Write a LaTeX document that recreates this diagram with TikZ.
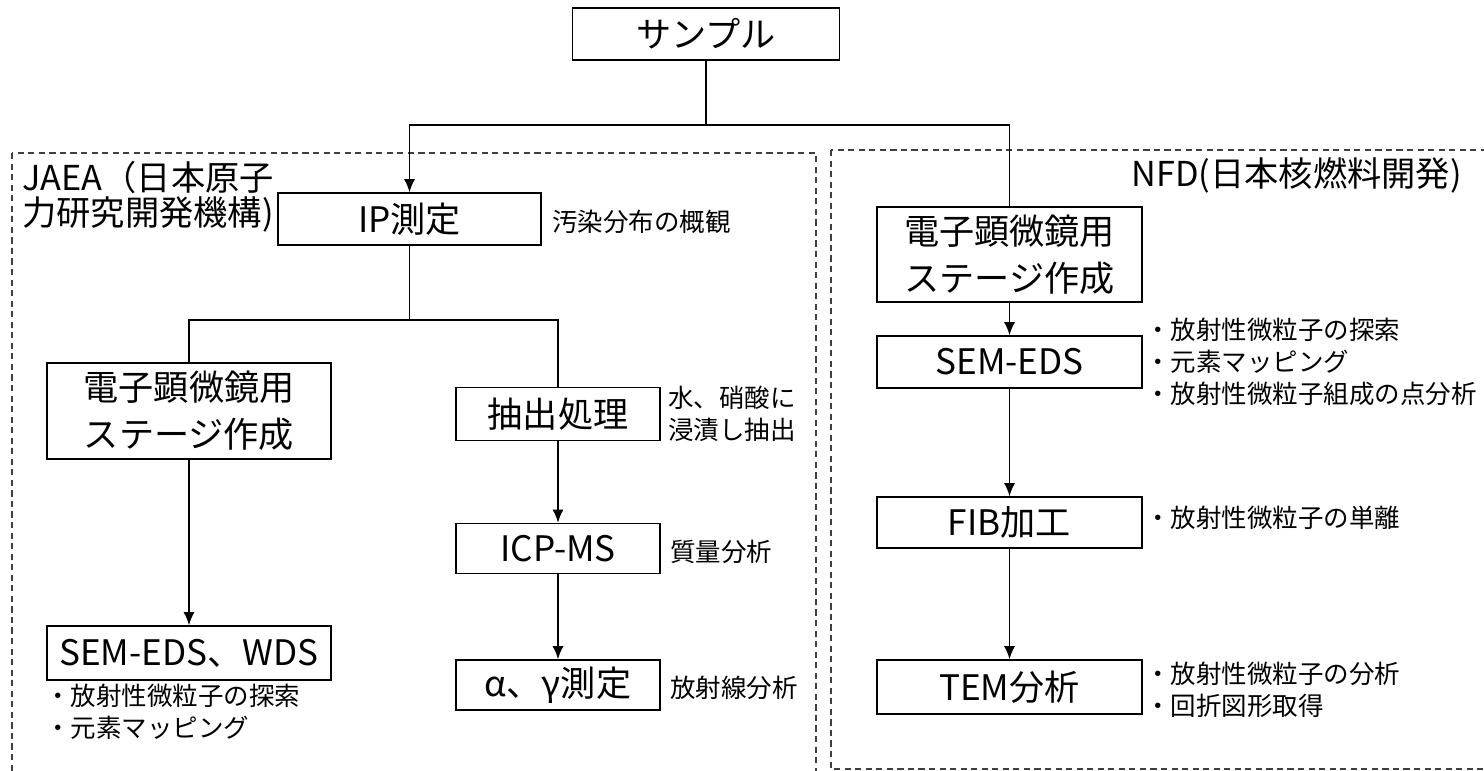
\documentclass[tikz,border=0pt]{standalone}
\usepackage{fontspec}
\setmainfont{Noto Sans CJK JP}
\usepackage{tikz}
\usetikzlibrary{positioning, arrows.meta, calc}
\tikzset{
  process/.style={rectangle, draw=black, line width=0.9pt, text centered, align=center, inner sep=2pt, font=\fontsize{20}{27}\selectfont},
  remark/.style={anchor=west, align=left, inner sep=0pt, font=\fontsize{14.5}{18}\selectfont},
  label/.style={align=left, inner sep=0pt, font=\fontsize{19.5}{20}\selectfont},
  region/.style={draw=black!75, line width=0.9pt, dash pattern=on 3.5pt off 2.5pt},
  arrow/.style={line width=0.9pt, -{Latex[length=2.6mm, width=2.2mm]}},
  link/.style={line width=0.9pt}
}

\begin{document}
\begin{tikzpicture}

    \useasboundingbox (0,0) rectangle (29.68,-15.42);
    \clip (0,0) rectangle (29.68,-15.42);

    % 1. Zonas punteadas
    \draw[region] (0.24,-3.06) rectangle (16.32,-16.2);
    \draw[region] (16.62,-3.0) rectangle (30.2,-15.38);
    \node[label, anchor=west] (jaea) at (0.44,-3.94) {JAEA（日本原子\\力研究開発機構)};
    \node[label, anchor=east] (nfd) at (29.24,-3.5) {NFD(日本核燃料開発)};

    % 2. Cajas
    \node[process, minimum width=5.34cm, minimum height=1.04cm] (sample) at (14.12,-0.68) {サンプル};
    \node[process, minimum width=5.26cm, minimum height=1.04cm] (ip) at (8.19,-4.38) {IP測定};

    % --- JAEA ---
    \node[process, minimum width=5.68cm, minimum height=1.92cm] (jstage) at (3.78,-8.22) {電子顕微鏡用\\ステージ作成};
    \node[process, minimum width=5.68cm, minimum height=1.08cm] (jsem) at (3.78,-13.06) {SEM-EDS、WDS};
    \node[process, minimum width=4.08cm, minimum height=1.06cm] (extract) at (11.16,-8.28) {抽出処理};
    \node[process, minimum width=4.08cm, minimum height=1.0cm] (icp) at (11.16,-10.97) {ICP-MS};
    \node[process, minimum width=4.08cm, minimum height=1.0cm] (alpha) at (11.16,-13.7) {α、γ測定};

    % --- NFD ---
    \node[process, minimum width=5.3cm, minimum height=1.9cm] (nstage) at (20.19,-5.09) {電子顕微鏡用\\ステージ作成};
    \node[process, minimum width=5.3cm, minimum height=1.04cm] (nsem) at (20.19,-7.24) {SEM-EDS};
    \node[process, minimum width=5.3cm, minimum height=1.02cm] (fib) at (20.19,-10.45) {FIB加工};
    \node[process, minimum width=5.3cm, minimum height=1.08cm] (tem) at (20.19,-13.74) {TEM分析};

    % 3. Notas
    \node[remark] (ipnote) at (11.04,-4.44) {汚染分布の概観};
    \node[remark] (extractnote) at (13.36,-8.28) {水、硝酸に\\浸漬し抽出};
    \node[remark] (icpnote) at (13.4,-11.04) {質量分析};
    \node[remark] (alphanote) at (13.4,-13.76) {放射線分析};
    \node[remark] (jsemnote) at (0.9,-14.24) {・放射性微粒子の探索\\・元素マッピング};
    \node[remark] (nsemnote) at (22.9,-7.24) {・放射性微粒子の探索\\・元素マッピング\\・放射性微粒子組成の点分析};
    \node[remark] (fibnote) at (22.9,-10.36) {・放射性微粒子の単離};
    \node[remark] (temnote) at (22.9,-13.8) {・放射性微粒子の分析\\・回折図形取得};

    % 4. Conexiones
    \coordinate (split) at (14.12,-2.5);
    \draw[link] (sample.south) -- (split);
    \draw[arrow] (split) -| (ip.north);
    \draw[link] (split) -| (nstage.north);

    \coordinate (branch) at (8.19,-6.4);
    \draw[link] (ip.south) -- (branch);
    \draw[link] (branch) -| (jstage.north);
    \draw[link] (branch) -| (extract.north);

    \draw[arrow] (jstage) -- (jsem);
    \draw[arrow] (extract) -- (icp);
    \draw[arrow] (icp) -- (alpha);

    \draw[arrow] (nstage) -- (nsem);
    \draw[arrow] (nsem) -- (fib);
    \draw[arrow] (fib) -- (tem);

\end{tikzpicture}
\end{document}
